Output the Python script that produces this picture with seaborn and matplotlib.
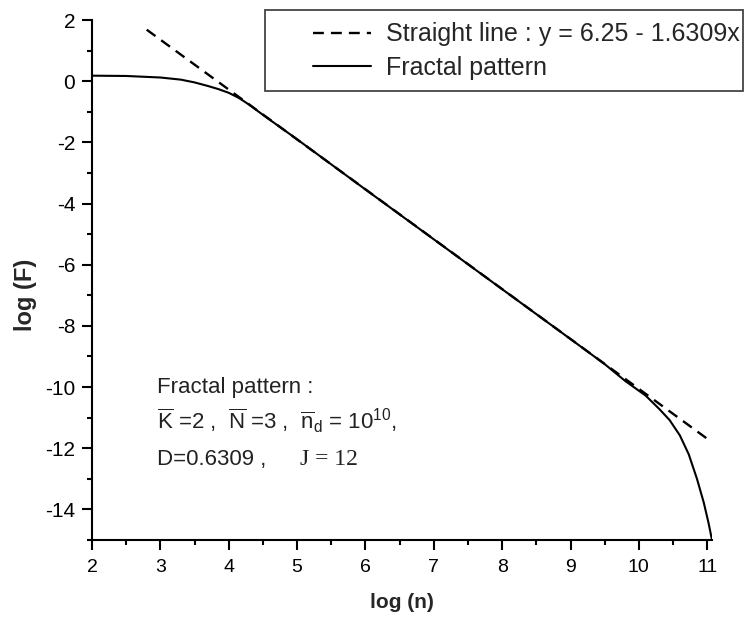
import matplotlib
matplotlib.use("Agg")
import matplotlib.pyplot as plt
from matplotlib.ticker import MultipleLocator
from matplotlib.patches import Rectangle
import seaborn as sns
import pandas as pd
import numpy as np

# Fractal pattern curve: log(n) vs log(F)
log_n = [2.0, 2.5, 3.0, 3.3, 3.5, 3.7, 3.85, 4.0, 4.15, 4.3, 4.5, 5.0, 6.0,
         7.0, 8.0, 9.0, 9.5, 9.8, 10.1, 10.3, 10.45, 10.6, 10.73, 10.85,
         10.95, 11.02, 11.07]
log_F = [0.18, 0.17, 0.12, 0.05, -0.04, -0.16, -0.26, -0.38, -0.55, -0.77,
         -1.10, -1.90, -3.54, -5.17, -6.80, -8.43, -9.25, -9.80, -10.28,
         -10.72, -11.08, -11.58, -12.20, -13.00, -13.78, -14.45, -15.0]

# Fitted straight line y = a + b x
line_intercept = 6.25
line_slope = -1.6309
line_x_range = [2.8, 11.0]

x_ticks = [2, 3, 4, 5, 6, 7, 8, 9, 10, 11]
y_ticks = [2, 0, -2, -4, -6, -8, -10, -12, -14]

sns.set_theme(style="ticks")
plt.rcParams["font.family"] = ["Liberation Sans", "DejaVu Sans"]
plt.rcParams["mathtext.fontset"] = "custom"
plt.rcParams["mathtext.rm"] = "Liberation Sans"
plt.rcParams["mathtext.it"] = "Liberation Sans:italic"
plt.rcParams["mathtext.bf"] = "Liberation Sans:bold"

fig = plt.figure(figsize=(7.45, 6.21), dpi=100)
ax = fig.add_axes([92 / 745, 1 - 540 / 621, 620 / 745, 520 / 621])

lx = np.array(line_x_range)
line_df = pd.DataFrame({"x": lx, "y": line_intercept + line_slope * lx})
curve_df = pd.DataFrame({"x": log_n, "y": log_F})

sns.lineplot(data=line_df, x="x", y="y", ax=ax, color="black", lw=1.7,
             linestyle=(0, (4.6, 3.0)), sort=False,
             label="Straight line : y = 6.25 - 1.6309x")
sns.lineplot(data=curve_df, x="x", y="y", ax=ax, color="black", lw=1.5,
             sort=False, label="Fractal pattern")

ax.set_xlim(2, 11.07)
ax.set_ylim(-15, 2)
ax.xaxis.set_minor_locator(MultipleLocator(0.5))
ax.yaxis.set_minor_locator(MultipleLocator(1))
ax.set_xticks(x_ticks)
ax.set_yticks(y_ticks)
ax.set_xticklabels([str(t) for t in x_ticks])
ax.set_yticklabels([str(t) for t in y_ticks])

sns.despine(ax=ax)
for s in ("left", "bottom"):
    ax.spines[s].set_linewidth(1.5)
    ax.spines[s].set_color("black")
ax.tick_params(which="major", direction="out", length=7, width=1.5,
               labelsize=14, colors="black")
ax.tick_params(axis="y", which="major", labelsize=15)
ax.tick_params(axis="x", which="major", pad=7)
ax.tick_params(axis="y", which="major", pad=5)
ax.tick_params(which="minor", direction="out", length=3.6, width=1.5,
               colors="black")

ax.set_xlabel("log (n)", fontsize=15, fontweight="bold")
ax.set_ylabel("log (F)", fontsize=17, fontweight="bold")
ax.xaxis.set_label_coords(0.5, -0.102)
ax.yaxis.set_label_coords(-0.089, 0.471)

# Legend box and entries
handles, labels = ax.get_legend_handles_labels()
ax.get_legend().remove()
fig.patches.append(Rectangle((265 / 745, 1 - 91 / 621), 478 / 745, 81 / 621,
                             transform=fig.transFigure, facecolor="white",
                             edgecolor="#444444", lw=1.3, zorder=3))
leg = fig.legend(handles, labels, loc="upper left",
                 bbox_to_anchor=(313 / 745, 1 - 22.5 / 621),
                 bbox_transform=fig.transFigure, frameon=False, fontsize=18,
                 borderpad=0, borderaxespad=0, handlelength=2.3,
                 handletextpad=0.6, labelspacing=0.36)
leg.set_zorder(5)

# Model parameters
txt_kw = dict(fontsize=16, color="#222222", ha="left", va="baseline")
ax.text(2.95, -10.19, "Fractal pattern :", **txt_kw)
ax.text(2.95, -11.40,
        r"$\overline{\mathrm{K}}$ =2 ,  $\overline{\mathrm{N}}$ =3 ,  "
        r"$\overline{\mathrm{n}}_{\mathrm{d}}$ = 10$^{10}$,", **txt_kw)
ax.text(2.95, -12.54, "D=0.6309 ,", **txt_kw)
ax.text(5.05, -12.54, "J = 12", fontsize=17, color="#222222", ha="left",
        va="baseline", family=["Liberation Serif", "DejaVu Serif"])

fig.savefig("out.png", dpi=100)
